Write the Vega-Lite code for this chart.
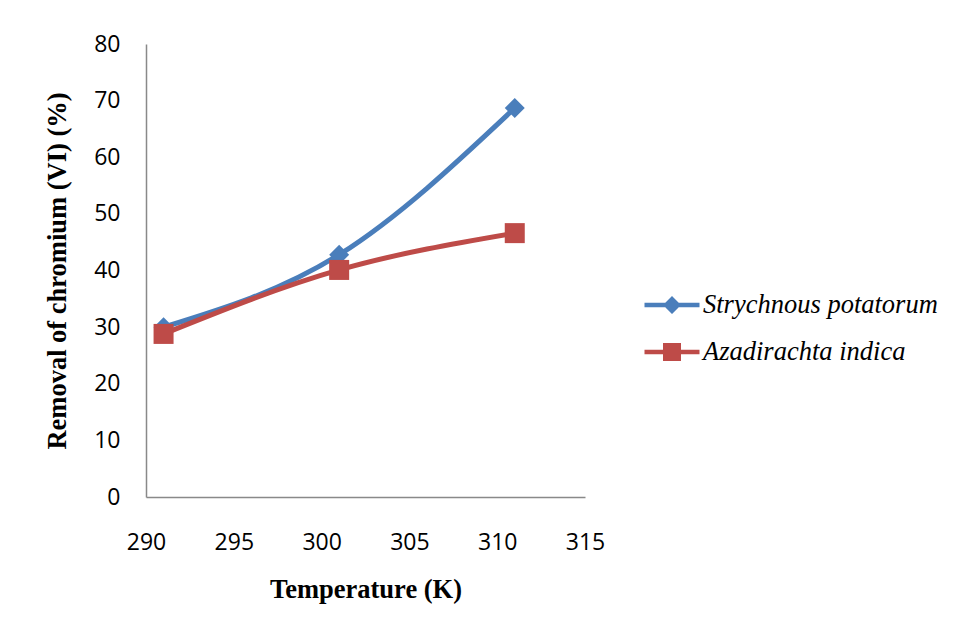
{
  "$schema": "https://vega.github.io/schema/vega-lite/v6.json",
  "description": "Removal of chromium (VI) vs temperature",
  "autosize": {"type": "none"},
  "width": 439,
  "height": 453,
  "padding": {"left": 146, "top": 44, "right": 372, "bottom": 136},
  "background": "white",
  "data": {
    "values": [
      {"temperature": 291, "removal": 30.0, "series": "Strychnous potatorum"},
      {"temperature": 301, "removal": 42.8, "series": "Strychnous potatorum"},
      {"temperature": 311, "removal": 68.7, "series": "Strychnous potatorum"},
      {"temperature": 291, "removal": 28.8, "series": "Azadirachta indica"},
      {"temperature": 301, "removal": 40.1, "series": "Azadirachta indica"},
      {"temperature": 311, "removal": 46.6, "series": "Azadirachta indica"}
    ]
  },
  "encoding": {
    "x": {
      "field": "temperature",
      "type": "quantitative",
      "scale": {"domain": [290, 315], "nice": false, "zero": false},
      "axis": {
        "title": "Temperature (K)",
        "values": [290, 295, 300, 305, 310, 315],
        "grid": false,
        "ticks": false,
        "labelFlush": false,
        "labelPadding": 34,
        "titlePadding": 22
      }
    },
    "y": {
      "field": "removal",
      "type": "quantitative",
      "scale": {"domain": [0, 80], "nice": false},
      "axis": {
        "title": "Removal of chromium (VI) (%)",
        "values": [0, 10, 20, 30, 40, 50, 60, 70, 80],
        "grid": false,
        "ticks": false,
        "labelPadding": 26,
        "titlePadding": 22
      }
    },
    "color": {
      "field": "series",
      "type": "nominal",
      "scale": {
        "domain": ["Strychnous potatorum", "Azadirachta indica"],
        "range": ["#4A7EBB", "#BE4B48"]
      },
      "legend": {
        "title": null,
        "orient": "none",
        "legendX": 506,
        "legendY": 241,
        "padding": 0,
        "symbolSize": 1600,
        "rowPadding": 13,
        "labelOffset": 11,
        "encode": {
          "symbols": {
            "update": {
              "shape": {"signal": "datum.value === 'Strychnous potatorum' ? 'M-1.375,-0.11H1.375V0.11H-1.375Z M0,-0.45L0.45,0L0,0.45L-0.45,0Z' : 'M-1.375,-0.11H1.375V0.11H-1.375Z M-0.45,-0.45H0.45V0.45H-0.45Z'"},
              "fill": {"signal": "datum.value === 'Strychnous potatorum' ? '#4A7EBB' : '#BE4B48'"},
              "fillOpacity": {"value": 1},
              "strokeWidth": {"value": 0}
            }
          }
        }
      }
    }
  },
  "layer": [
    {
      "mark": {"type": "line", "interpolate": "monotone", "strokeWidth": 5}
    },
    {
      "transform": [{"filter": "datum.series === 'Strychnous potatorum'"}],
      "mark": {"type": "point", "shape": "diamond", "filled": true, "size": 400, "opacity": 1}
    },
    {
      "transform": [{"filter": "datum.series === 'Azadirachta indica'"}],
      "mark": {"type": "point", "shape": "square", "filled": true, "size": 400, "opacity": 1}
    }
  ],
  "config": {
    "view": {"stroke": null},
    "axis": {
      "domainColor": "#898989",
      "domainWidth": 1.5,
      "labelFont": "Open Sans",
      "labelFontSize": 23,
      "labelColor": "#000000",
      "titleFont": "Liberation Serif",
      "titleFontSize": 26.5,
      "titleFontWeight": "bold",
      "titleColor": "#000000"
    },
    "legend": {
      "labelFont": "Liberation Serif",
      "labelFontSize": 26.5,
      "labelFontStyle": "italic",
      "labelColor": "#000000",
      "labelLimit": 400
    }
  }
}
